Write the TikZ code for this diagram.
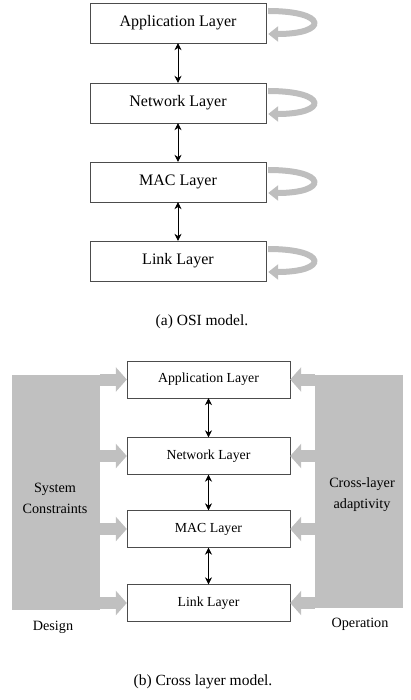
\documentclass[tikz,border=0pt]{standalone}
\usepackage{fontspec}
\setmainfont{Liberation Serif}
\usetikzlibrary{arrows.meta}
\definecolor{loopgray}{RGB}{190,190,190}
\definecolor{blockgray}{RGB}{192,192,192}

\begin{document}
\begin{tikzpicture}[x=1pt, y=-1pt,
  osi/.style={draw=black!70, minimum width=176pt, minimum height=40pt, inner sep=0pt, font=\fontsize{16}{18}\selectfont},
  layer/.style={draw=black!70, minimum width=163pt, minimum height=37pt, inner sep=0pt, font=\fontsize{13.8}{16}\selectfont},
  updown/.style={{Stealth[length=7pt,width=7pt]}-{Stealth[length=7pt,width=7pt]}, line width=0.7pt},
  selfloop/.style={loopgray, line width=6pt, -{Triangle[length=10pt,width=15pt]}},
  block/.style={fill=blockgray, inner sep=0pt},
  feed/.style={blockgray, line width=12pt, -{Triangle[length=11pt,width=24pt]}},
  caption/.style={font=\fontsize{15.5}{18}\selectfont},
  label/.style={align=center, font=\fontsize{14.2}{21}\selectfont}]
\useasboundingbox (0,0) rectangle (410,700);

% (a) OSI model
\node [osi] (app) at (178,23) {Application Layer};
\node [osi] (net) at (178,103) {Network Layer};
\node [osi] (mac) at (178,182) {MAC Layer};
\node [osi] (link) at (178,261) {Link Layer};
\draw [updown] (app.south) -- (net.north);
\draw [updown] (net.south) -- (mac.north);
\draw [updown] (mac.south) -- (link.north);
\foreach \n in {app,net,mac,link}
  \draw [selfloop] ([xshift=2pt,yshift=12pt]\n.east) .. controls +(60pt,0pt) and +(60pt,0pt) .. ([xshift=2pt,yshift=-11pt]\n.east);
\node [caption] (capa) at (202,322) {(a) OSI model.};

% (b) Cross layer model
\node [block, minimum width=88pt, minimum height=235pt] (design) at (56,492.5) {};
\node [block, minimum width=88pt, minimum height=233pt] (operation) at (359,491.5) {};
\node [label] (sys) at (55,498.5) {System\\Constraints};
\node [label] (adapt) at (362,494.5) {Cross-layer\\adaptivity};
\node [layer] (capp) at (208.5,379.5) {Application Layer};
\node [layer] (cnet) at (208.5,456) {Network Layer};
\node [layer] (cmac) at (208.5,529) {MAC Layer};
\node [layer] (clink) at (208.5,603) {Link Layer};
\draw [updown] (capp.south) -- (cnet.north);
\draw [updown] (cnet.south) -- (cmac.north);
\draw [updown] (cmac.south) -- (clink.north);
\foreach \n in {capp,cnet,cmac,clink} {
  \draw [feed] (design.east |- \n) -- (\n.west);
  \draw [feed] (operation.west |- \n) -- (\n.east);
}
\node [label] (dlabel) at (53,627) {Design};
\node [label] (olabel) at (360,624) {Operation};
\node [caption] (capb) at (203,682) {(b) Cross layer model.};
\end{tikzpicture}
\end{document}
